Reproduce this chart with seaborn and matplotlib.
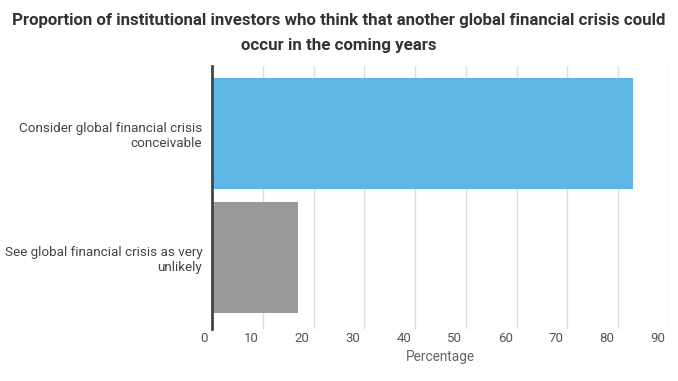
import matplotlib
matplotlib.use("Agg")
import matplotlib.pyplot as plt
import matplotlib.transforms as mtransforms
import seaborn as sns
import pandas as pd

categories = ["Consider global financial crisis\nconceivable",
              "See global financial crisis as very\nunlikely"]
values = [83, 17]
colors = ["#5EB6E4", "#999999"]
xticks = [0, 10, 20, 30, 40, 50, 60, 70, 80, 90]

sns.set_theme(style="white")
plt.rcParams['font.family'] = ['Roboto', 'DejaVu Sans']

df = pd.DataFrame({"category": categories, "value": values})

W, H = 678, 381
fig = plt.figure(figsize=(W / 100, H / 100), dpi=100)
left, right, top, bottom = 212, 669, 66, 329
ax = fig.add_axes([left / W, 1 - bottom / H, (right - left) / W, (bottom - top) / H])

sns.barplot(data=df, y="category", x="value", hue="category", palette=colors,
            orient="h", width=0.888, legend=False, ax=ax, zorder=3,
            edgecolor="none", saturation=1)

ax.set_xlim(0, 90)
ax.set_ylim(1.572, -0.54)
ax.set_xticks(xticks)
ax.set_xticklabels([str(t) for t in xticks])
ax.grid(axis="x", color="#DDDDDD", linewidth=1, zorder=0)
ax.grid(axis="y", visible=False)
for s in ["top", "right", "bottom"]:
    ax.spines[s].set_visible(False)
ax.spines["left"].set_color("#444444")
ax.spines["left"].set_linewidth(2)
ax.spines["left"].set_zorder(5)

ax.tick_params(axis="x", length=15, width=1, color="#DDDDDD", direction="out",
               pad=-13, labelsize=9.5, labelcolor="#555555")
ax.tick_params(axis="y", length=0, pad=7, labelsize=9.7, labelcolor="#444444")
for lab in ax.get_xticklabels():
    lab.set_horizontalalignment("right")
    lab.set_transform(lab.get_transform() +
                      mtransforms.ScaledTranslation(-4 / 100, 0, fig.dpi_scale_trans))
for lab in ax.get_yticklabels():
    lab.set_horizontalalignment("right")
    lab.set_multialignment("right")

ax.set_ylabel("")
ax.set_xlabel("Percentage", fontsize=9.8, color="#666666", labelpad=4)

fig.suptitle("Proportion of institutional investors who think that another global financial crisis could\noccur in the coming years",
             x=0.5, y=0.966, fontsize=12.2, fontweight="bold", color="#333333",
             linespacing=1.85, va="top")

fig.savefig("out.png", dpi=100)
